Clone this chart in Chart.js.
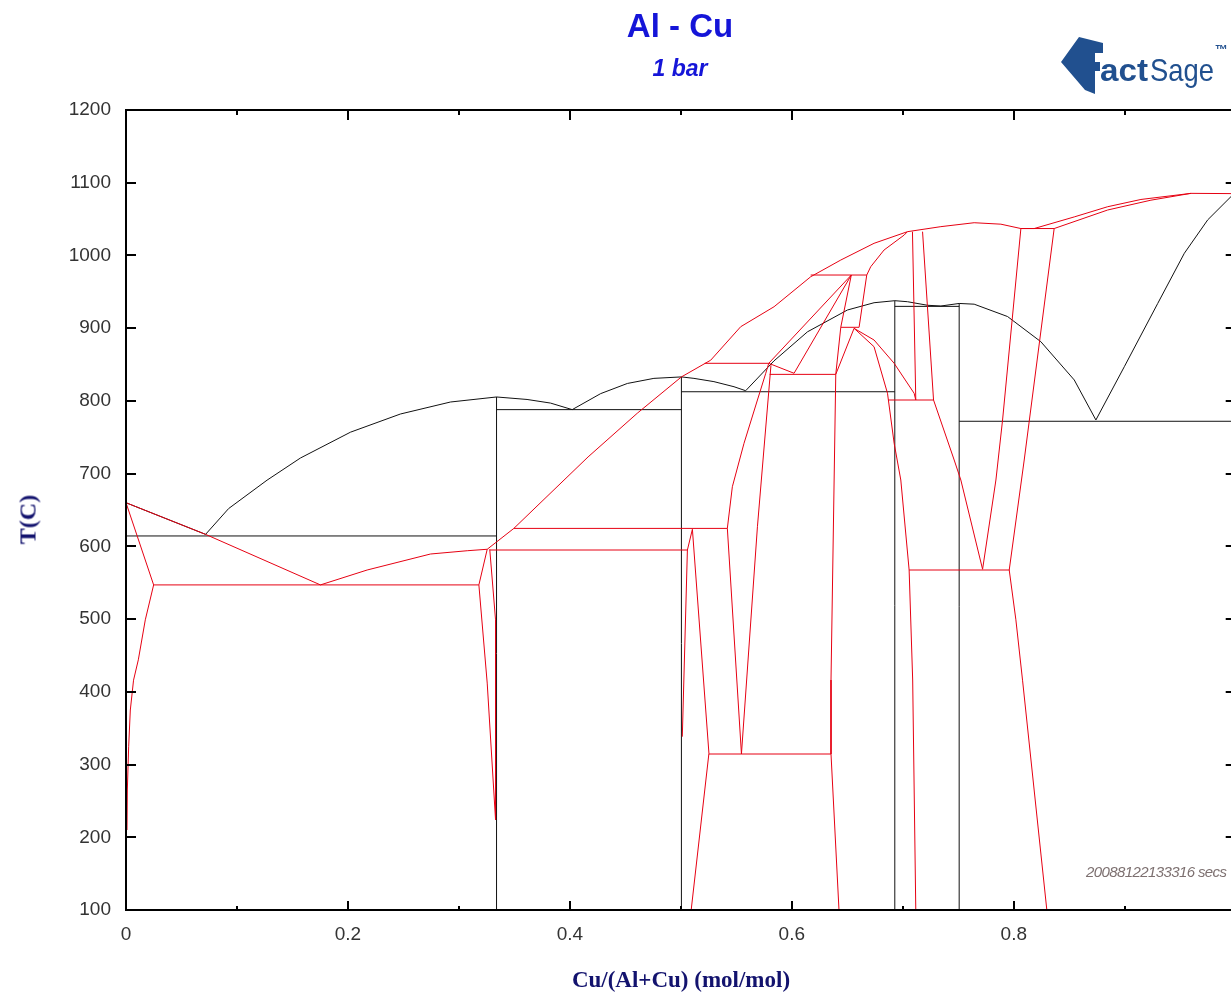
<!DOCTYPE html>
<html>
<head>
<meta charset="utf-8">
<title>Al - Cu</title>
<script src="https://cdn.jsdelivr.net/npm/chart.js@4"></script>
<style>
  html, body { margin: 0; padding: 0; overflow: hidden; background: #fff; }
  #wrap { position: relative; width: 1254px; height: 995px; }
  #plot { position: absolute; left: 0; top: 0; }
  .lbl { position: absolute; white-space: nowrap; line-height: 1; }
  #title { left: 580px; width: 200px; text-align: center; top: 7px; font: bold 33px "Liberation Sans", Arial, sans-serif; color: #1515d8; }
  #subtitle { left: 580px; width: 200px; text-align: center; top: 55px; font: italic bold 23px "Liberation Sans", Arial, sans-serif; color: #1515d8; }
  #xtitle { left: 481px; width: 400px; text-align: center; top: 967px; font: bold 23px "Liberation Serif", "Times New Roman", serif; color: #13136e; }
  #ytitle { left: -22px; width: 100px; text-align: center; top: 506px; font: bold 24px "Liberation Serif", "Times New Roman", serif; color: #13136e; transform: rotate(-90deg); }
  #stamp { left: 1086px; top: 863px; font: italic 15px "Liberation Sans", Arial, sans-serif; letter-spacing: -0.6px; color: #7d7070; }
</style>
</head>
<body>
<div id="wrap">
  <canvas id="plot" width="1254" height="995"></canvas>
  <div class="lbl" id="title">Al - Cu</div>
  <div class="lbl" id="subtitle">1 bar</div>
  <div class="lbl" id="xtitle">Cu/(Al+Cu) (mol/mol)</div>
  <div class="lbl" id="ytitle">T(C)</div>
  <div class="lbl" id="stamp">20088122133316 secs</div>
  <svg style="position:absolute;left:0;top:0" width="1254" height="110">
    <polygon fill="#21508f" points="1061,62 1079,37 1103,43 1103,53 1095,53 1095,62 1100,62 1100,71 1095,71 1095,94 1085,90"/>
    <text x="1100" y="81" font-family="Liberation Sans, Arial, sans-serif" font-weight="bold" font-size="32" fill="#21508f" textLength="48" lengthAdjust="spacingAndGlyphs">act</text>
    <text x="1150" y="81" font-family="Liberation Sans, Arial, sans-serif" font-size="32" fill="#21508f" textLength="64" lengthAdjust="spacingAndGlyphs">Sage</text>
    <text x="1215" y="54" font-family="Liberation Sans, Arial, sans-serif" font-weight="bold" font-size="13" fill="#21508f">™</text>
  </svg>
</div>

<script>
// Axes
const xMin = 0, xMax = 1, xStep = 0.1;
const yMin = 100, yMax = 1200, yStep = 100;

// Black curves (each one is a list of [Cu fraction, T(C)])
const blackAlLiquidus = [[0, 660], [0.0717, 616.5]];
const blackDomeA = [[0.0717, 616.5], [0.0925, 652], [0.1271, 691], [0.1572, 721.5], [0.2023, 757], [0.2473, 782], [0.2924, 798.5], [0.3339, 805.4], [0.3614, 802], [0.3826, 797], [0.4021, 788]];
const blackDomeB = [[0.4021, 788], [0.4277, 810], [0.4518, 824], [0.4757, 831], [0.5005, 833], [0.5118, 831], [0.5298, 826.5], [0.5479, 819.5], [0.5584, 814]];
const blackDomeC = [[0.5584, 814], [0.5839, 855], [0.6141, 895], [0.6501, 925], [0.6741, 935], [0.6928, 937.8], [0.7042, 936.4], [0.7223, 931.5], [0.7343, 930.5], [0.7508, 934], [0.7643, 933], [0.7944, 916], [0.8244, 881.4], [0.8545, 828.8], [0.874, 773.8]];
const blackCuLiquidus = [[0.874, 773.8], [0.8996, 847], [0.9297, 934], [0.9537, 1003], [0.9748, 1049], [0.9958, 1081], [1, 1085]];
const blackIso614 = [[0, 614.3], [0.3339, 614.3]];
const blackIso788 = [[0.3339, 788], [0.5005, 788]];
const blackIso813 = [[0.5005, 812.6], [0.6928, 812.6]];
const blackIso930 = [[0.6928, 930], [0.7508, 930]];
const blackIso772 = [[0.7508, 772], [1, 772]];
const blackV333 = [[0.3339, 100], [0.3339, 805.4]];
const blackV500 = [[0.5005, 100], [0.5005, 833]];
const blackV693 = [[0.6928, 100], [0.6928, 937.8]];
const blackV751 = [[0.7508, 100], [0.7508, 934]];

// Red curves
const redAlSolvus = [[0, 660], [0.0249, 547], [0.0174, 499], [0.0111, 444], [0.0068, 416], [0.0039, 375], [0.0024, 324.5], [0.0012, 265], [0.0009, 210]];
const redLiquidus = [[0, 660], [0.0717, 616.5], [0.1752, 547], [0.2173, 567.5], [0.2744, 589.5], [0.3075, 594], [0.3255, 596], [0.3495, 624.7], [0.4164, 723], [0.4607, 783], [0.5005, 833], [0.5269, 856], [0.5539, 902], [0.584, 929.5], [0.617, 970.7], [0.6441, 993.7], [0.6741, 1016.7], [0.7042, 1032.7], [0.7343, 1039.6], [0.7643, 1045], [0.7884, 1043], [0.8064, 1037], [0.8184, 1037], [0.8545, 1053], [0.8846, 1067], [0.9146, 1077], [0.9597, 1085.4], [1, 1085]];
const redCuSolidus = [[0.8364, 1037], [0.8846, 1062.5], [0.9236, 1076], [0.9597, 1085.4]];
const redCuSolvus = [[0.8364, 1037], [0.8094, 718.75], [0.7959, 567.5], [0.8019, 499], [0.8079, 416], [0.8298, 100]];
const redIso1037 = [[0.8064, 1037], [0.8364, 1037]];
const redIso567 = [[0.7057, 567.5], [0.7959, 567.5]];
const redGammaV = [[0.7277, 801.25], [0.7463, 718.75], [0.7523, 691.25], [0.7719, 568.5], [0.7839, 691.25], [0.7899, 773.75], [0.8064, 1037]];
const redGammaLeft = [[0.7087, 1032.7], [0.7117, 801.25]];
const redGammaRight = [[0.7178, 1032.7], [0.7277, 801.25]];
const redIso801 = [[0.6869, 801.25], [0.7277, 801.25]];
const redZetaOuter = [[0.6561, 899.8], [0.6741, 874.5], [0.6862, 810.5], [0.6922, 741.7], [0.6982, 691.25], [0.7057, 567.5], [0.7089, 416.25], [0.7117, 100]];
const redZetaInner = [[0.6561, 899.8], [0.6741, 883.75], [0.6922, 851.7], [0.7102, 810.5], [0.7117, 801.25]];
const redIso973 = [[0.617, 973.1], [0.6675, 973.1]];
const redIso901 = [[0.6441, 901.2], [0.6606, 901.2]];
const redDelta = [[0.6536, 973.1], [0.6441, 901.2], [0.6396, 836.5], [0.6353, 416.25], [0.6353, 314.5], [0.6425, 100]];
const redBoxRight = [[0.6675, 973.1], [0.6606, 901.2]];
const redPeakLeft = [[0.6561, 899.8], [0.6396, 836.5]];
const redToLiquidus = [[0.6675, 973.1], [0.6711, 984.5], [0.6831, 1007.5], [0.7012, 1028], [0.7042, 1032.7]];
const redTriangle = [[0.6536, 973.1], [0.5792, 851.7], [0.602, 838], [0.6536, 973.1]];
const redIso852 = [[0.5215, 851.7], [0.5792, 851.7]];
const redIso838 = [[0.58, 836.5], [0.6396, 836.5]];
const redEpsLeft = [[0.5792, 851.7], [0.5765, 838], [0.569, 801.25], [0.5569, 741.7], [0.5464, 682], [0.5419, 624.8], [0.5546, 314.5]];
const redEpsRight = [[0.5812, 849], [0.569, 627], [0.5546, 314.5]];
const redIso315 = [[0.5253, 314.5], [0.6353, 314.5]];
const redEta = [[0.5013, 338.3], [0.5059, 595], [0.5104, 623.5], [0.5253, 315.5], [0.5093, 100]];
const redIso595 = [[0.3278, 595], [0.5059, 595]];
const redIso625 = [[0.3495, 624.7], [0.5419, 624.7]];
const redThetaLeft = [[0.3255, 596], [0.318, 547], [0.3255, 412], [0.333, 224]];
const redThetaRight = [[0.3278, 596], [0.333, 499], [0.333, 224]];
const redIso547 = [[0.0249, 547], [0.318, 547]];

const blackLines = [blackAlLiquidus, blackDomeA, blackDomeB, blackDomeC, blackCuLiquidus,
  blackIso614, blackIso788, blackIso813, blackIso930, blackIso772,
  blackV333, blackV500, blackV693, blackV751];
const redLines = [redAlSolvus, redLiquidus, redCuSolidus, redCuSolvus, redIso1037, redIso567,
  redGammaV, redGammaLeft, redGammaRight, redIso801, redZetaOuter, redZetaInner,
  redIso973, redIso901, redDelta, redBoxRight, redPeakLeft, redToLiquidus, redTriangle,
  redIso852, redIso838, redEpsLeft, redEpsRight, redIso315, redEta, redIso595, redIso625,
  redThetaLeft, redThetaRight, redIso547];

const RED = '#e60012';
const BLACK = '#111111';

function toPoints(line) {
  return line.map(p => ({ x: p[0], y: p[1] }));
}

const datasets = [];
redLines.forEach(l => datasets.push({ data: toPoints(l), borderColor: RED, borderWidth: 1, order: 0 }));
blackLines.forEach(l => datasets.push({ data: toPoints(l), borderColor: BLACK, borderWidth: 1, order: 1 }));

// frame + inward tick marks on all four sides
const frameTicks = {
  id: 'frameTicks',
  afterDatasetsDraw(chart) {
    const { ctx, chartArea: a, scales: { x, y } } = chart;
    ctx.save();
    ctx.strokeStyle = '#000';
    ctx.lineWidth = 2;
    ctx.strokeRect(a.left, a.top, a.right - a.left, a.bottom - a.top);
    ctx.beginPath();
    x.ticks.forEach((t, i) => {
      const px = Math.round(x.getPixelForValue(t.value));
      const len = i % 2 === 0 ? 9 : 4;
      ctx.moveTo(px, a.bottom); ctx.lineTo(px, a.bottom - len);
      ctx.moveTo(px, a.top); ctx.lineTo(px, a.top + len + 1);
    });
    y.ticks.forEach(t => {
      const py = Math.round(y.getPixelForValue(t.value));
      ctx.moveTo(a.left, py); ctx.lineTo(a.left + 10, py);
      ctx.moveTo(a.right, py); ctx.lineTo(a.right - 10, py);
    });
    ctx.stroke();
    ctx.restore();
  }
};

const tickFont = { family: '"Liberation Sans", Arial, sans-serif', size: 19 };

new Chart(document.getElementById('plot').getContext('2d'), {
  type: 'scatter',
  data: { datasets: datasets },
  options: {
    responsive: false,
    animation: false,
    showLine: true,
    elements: { point: { radius: 0, hoverRadius: 0 }, line: { tension: 0, fill: false } },
    layout: { padding: { top: 110, right: 10, left: 0, bottom: 0 } },
    plugins: { legend: { display: false }, tooltip: { enabled: false } },
    scales: {
      x: {
        type: 'linear', min: xMin, max: xMax,
        grid: { display: false, drawTicks: false },
        border: { display: false },
        ticks: {
          stepSize: xStep, autoSkip: false, maxRotation: 0, padding: 13,
          color: '#333', font: tickFont,
          callback: (v, i) => (i % 2 === 0 ? String(+v.toFixed(1)) : '')
        },
        afterFit: s => { s.height = 85; }
      },
      y: {
        type: 'linear', min: yMin, max: yMax,
        grid: { display: false, drawTicks: false },
        border: { display: false },
        ticks: { stepSize: yStep, padding: 15, color: '#333', font: tickFont, callback: v => String(v) },
        afterFit: s => { s.width = 126; }
      }
    }
  },
  plugins: [frameTicks]
});
</script>
</body>
</html>
